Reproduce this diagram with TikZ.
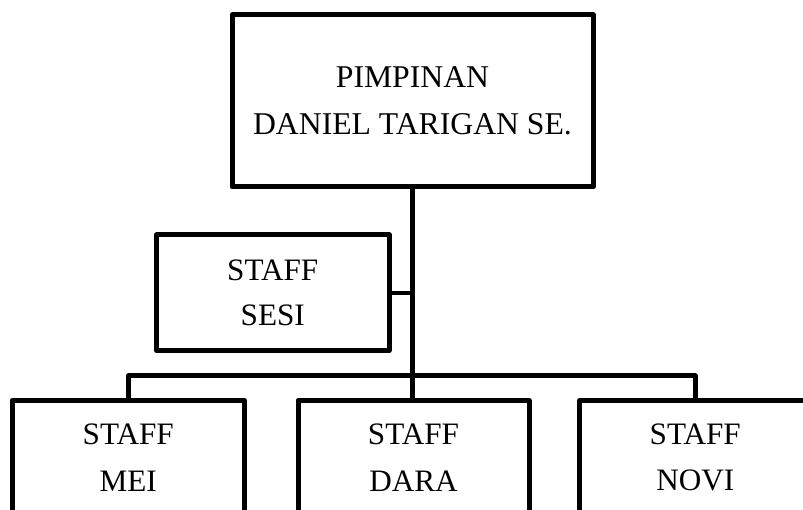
\documentclass[tikz,border=0pt]{standalone}
\usepackage{fontspec}
\setmainfont{Liberation Serif}
\begin{document}
\begin{tikzpicture}[x=1pt,y=-1pt,
  boxstyle/.style={draw=black,line width=5pt,line join=round,rectangle,inner sep=0pt,align=center},
  topfont/.style={font=\fontsize{31.7}{47.5}\selectfont},
  sesifont/.style={font=\fontsize{31.2}{45.5}\selectfont},
  lowfont/.style={font=\fontsize{31.2}{46.5}\selectfont},
  conn/.style={draw=black,line width=5pt,line join=round},
  thinconn/.style={draw=black,line width=4pt}]
\useasboundingbox (0,0) rectangle (803,510);
\clip (0,0) rectangle (803,510);
\node[boxstyle,topfont,minimum width=361pt,minimum height=172pt] (top) at (412.5,101) {PIMPINAN\\DANIEL TARIGAN SE.};
\node[boxstyle,sesifont,minimum width=232.5pt,minimum height=115.5pt] (sesi) at (272.75,292.75) {STAFF\\SESI};
\node[boxstyle,lowfont,minimum width=232.5pt,minimum height=114pt] (mei) at (128.25,457.5) {STAFF\\MEI};
\node[boxstyle,lowfont,minimum width=231pt,minimum height=114pt] (dara) at (413.5,457.5) {STAFF\\DARA};
\node[boxstyle,lowfont,minimum width=231.5pt,minimum height=114pt] (novi) at (695.25,457.5) {STAFF\\NOVI};
\coordinate (bus) at (412.5,376);
\draw[conn] (top.south) -- (top.south |- dara.north);
\draw[thinconn] (sesi.east) -- (sesi.east -| top.south);
\draw[conn] (mei.north) -- (mei.north |- bus) -- (novi.north |- bus) -- (novi.north);
\end{tikzpicture}
\end{document}
